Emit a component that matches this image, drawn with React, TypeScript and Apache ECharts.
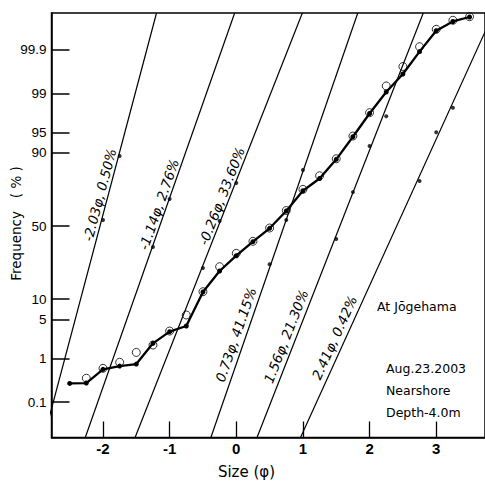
import React, { useEffect, useRef } from "react";
import * as echarts from "echarts";

// ---- data ----
const tickPercents = [0.1, 1, 5, 10, 50, 90, 95, 99, 99.9];
const tickLabels = ["0.1", "1", "5", "10", "50", "90", "95", "99", "99.9"];
const sizeTicks = [-2, -1, 0, 1, 2, 3];

// cumulative curve (black dots, connected)
const samplePhi = [-2.5, -2.25, -2, -1.75, -1.5, -1.25, -1, -0.75, -0.5, -0.25, 0, 0.25, 0.5, 0.75, 1, 1.25, 1.5, 1.75, 2, 2.25, 2.5, 2.75, 3, 3.25, 3.5];
const sampleFreq = [0.288, 0.294, 0.597, 0.701, 0.773, 1.98, 3.19, 3.97, 12.34, 21.5, 30.12, 39.17, 48.4, 60.37, 73.2, 79.76, 87.9, 94.14, 97.58, 99.064, 99.6175, 99.889, 99.9694, 99.98335, 99.98773];

// open circles
const circlePhi = [-2.25, -2, -1.75, -1.5, -1.25, -1, -0.75, -0.5, -0.25, 0, 0.25, 0.5, 0.75, 1, 1.25, 1.5, 1.75, 2, 2.25, 2.5, 2.75, 3, 3.25, 3.5];
const circleFreq = [0.379, 0.628, 0.84, 1.33, 1.84, 3.27, 5.93, 12.45, 23.76, 31.6, 39.43, 48.6, 60.7, 74.0, 81.1, 88.1, 94.28, 97.66, 99.3, 99.743, 99.917, 99.9721, 99.98465, 99.98796];

// component populations (straight lines on probability paper)
const compMean = [-2.045, -1.149, -0.268, 0.717, 1.554, 2.407];
const compSigma = [0.227, 0.301, 0.337, 0.296, 0.335, 0.389];
const compLabels = ["-2.03φ, 0.50%", "-1.14φ, 2.76%", "-0.26φ, 33.60%", "0.73φ, 41.15%", "1.56φ, 21.30%", "2.41φ, 0.42%"];
const compDotPhi = [[-2.0, -1.75], [-1.25, -1.0], [-0.5, -0.25, 0], [0.5, 0.75, 1.0], [1.5, 1.75, 2.0, 2.25], [2.75, 3.0, 3.25]];
const compDotFreq = [[54.2, 89.0], [35.6, 68.2], [23.1, 53.5, 77.5], [25.1, 54.2, 83.7], [41.0, 72.4, 92.0, 97.3], [78.5, 95.0, 98.1]];

// ---- layout (not data) ----
const labelAnchorZ = [0.509, 0.333, 0.474, -1.965, -2.0, -2.035];
const labelOffset = [8.4, 8.0, 8.0, 10.1, 10.0, 10.5];

const X_MIN = -2.7725;
const X_MAX = 3.732;
const Z_MIN = -3.71;
const Z_MAX = 3.737;

// inverse standard normal CDF (probability-paper scale)
function probit(p: number): number {
  const a = [-3.969683028665376e1, 2.209460984245205e2, -2.759285104469687e2, 1.38357751867269e2, -3.066479806614716e1, 2.506628277459239];
  const b = [-5.447609879822406e1, 1.615858368580409e2, -1.556989798598866e2, 6.680131188771972e1, -1.328068155288572e1];
  const c = [-7.784894002430293e-3, -3.223964580411365e-1, -2.400758277161838, -2.549732539343734, 4.374664141464968, 2.938163982698783];
  const d = [7.784695709041462e-3, 3.224671290700398e-1, 2.445134137142996, 3.754408661907416];
  const plow = 0.02425;
  const phigh = 1 - plow;
  if (p < plow) {
    const q = Math.sqrt(-2 * Math.log(p));
    return (((((c[0] * q + c[1]) * q + c[2]) * q + c[3]) * q + c[4]) * q + c[5]) / ((((d[0] * q + d[1]) * q + d[2]) * q + d[3]) * q + 1);
  }
  if (p <= phigh) {
    const q = p - 0.5;
    const r = q * q;
    return ((((((a[0] * r + a[1]) * r + a[2]) * r + a[3]) * r + a[4]) * r + a[5]) * q) / (((((b[0] * r + b[1]) * r + b[2]) * r + b[3]) * r + b[4]) * r + 1);
  }
  const q = Math.sqrt(-2 * Math.log(1 - p));
  return -(((((c[0] * q + c[1]) * q + c[2]) * q + c[3]) * q + c[4]) * q + c[5]) / ((((d[0] * q + d[1]) * q + d[2]) * q + d[3]) * q + 1);
}

const zTicks = tickPercents.map((p) => probit(p / 100));

export default function App() {
  const ref = useRef<HTMLDivElement>(null);

  useEffect(() => {
    if (!ref.current) return;
    const chart = echarts.init(ref.current, null, { renderer: "svg" });

    const compLineSeries = compMean.map((m, i) => ({
      type: "line",
      silent: true,
      symbol: "none",
      z: 2,
      lineStyle: { color: "#000", width: 1.2 },
      data: [
        [m + compSigma[i] * Z_MIN, Z_MIN],
        [m + compSigma[i] * Z_MAX, Z_MAX],
      ],
    }));

    const compDots: number[][] = [];
    compDotPhi.forEach((arr, i) => {
      arr.forEach((p, j) => compDots.push([p, probit(compDotFreq[i][j] / 100)]));
    });

    const font = "'DejaVu Sans', sans-serif";

    const option: any = {
      animation: false,
      backgroundColor: "#fff",
      grid: {
        left: 51.5,
        top: 13,
        right: -1,
        bottom: 43.5,
        show: true,
        borderColor: "#000",
        borderWidth: 1.5,
        backgroundColor: "transparent",
      },
      xAxis: {
        type: "value",
        min: X_MIN,
        max: X_MAX,
        axisLine: { show: true, onZero: false, lineStyle: { color: "#000", width: 1.5 } },
        axisTick: { show: true, inside: true, length: 16, customValues: sizeTicks, lineStyle: { color: "#000", width: 1.3 } },
        axisLabel: {
          customValues: sizeTicks,
          margin: 3,
          color: "#000",
          fontSize: 15,
          fontWeight: "bold",
          fontFamily: "'Liberation Sans Narrow', 'Liberation Sans', sans-serif",
        },
        splitLine: { show: false },
      },
      yAxis: {
        type: "value",
        min: Z_MIN,
        max: Z_MAX,
        axisLine: { show: true, onZero: false, lineStyle: { color: "#000", width: 1.5 } },
        axisTick: { show: true, inside: true, length: 18, customValues: zTicks, lineStyle: { color: "#000", width: 1.5 } },
        axisLabel: {
          customValues: zTicks,
          margin: 5,
          color: "#000",
          fontSize: 13.5,
          fontFamily: "'Liberation Sans', sans-serif",
          formatter: (v: number) => {
            for (let i = 0; i < zTicks.length; i++) {
              if (Math.abs(zTicks[i] - v) < 1e-6) return tickLabels[i];
            }
            return "";
          },
        },
        splitLine: { show: false },
      },
      graphic: [
        { type: "text", x: 377, y: 306, style: { text: "At Jōgehama", fontSize: 12.5, fontFamily: font, fill: "#000", verticalAlign: "middle" } },
        { type: "text", x: 386, y: 368, style: { text: "Aug.23.2003", fontSize: 12.5, fontFamily: font, fill: "#000", verticalAlign: "middle" } },
        { type: "text", x: 386, y: 390, style: { text: "Nearshore", fontSize: 12.5, fontFamily: font, fill: "#000", verticalAlign: "middle" } },
        { type: "text", x: 386, y: 412, style: { text: "Depth-4.0m", fontSize: 12.5, fontFamily: font, fill: "#000", verticalAlign: "middle" } },
        { type: "text", x: 16, y: 223.5, rotation: Math.PI / 2, style: { text: "Frequency   ( % )", fontSize: 13.5, fontFamily: font, fill: "#000", align: "center", verticalAlign: "middle" } },
        { type: "text", x: 246.5, y: 472, style: { text: "Size (φ)", fontSize: 15, fontFamily: font, fill: "#000", align: "center", verticalAlign: "middle" } },
      ],
      series: [
        ...compLineSeries,
        {
          type: "scatter",
          silent: true,
          symbol: "circle",
          symbolSize: 4,
          z: 3,
          itemStyle: { color: "#000" },
          data: compDots,
        },
        {
          type: "line",
          silent: true,
          symbol: "circle",
          symbolSize: 5,
          showAllSymbol: true,
          z: 4,
          itemStyle: { color: "#000" },
          lineStyle: { color: "#000", width: 2.3 },
          data: samplePhi.map((p, i) => [p, probit(sampleFreq[i] / 100)]),
        },
        {
          type: "scatter",
          silent: true,
          symbol: "circle",
          symbolSize: 8,
          z: 5,
          itemStyle: { color: "rgba(0,0,0,0)", borderColor: "#000", borderWidth: 1 },
          data: circlePhi.map((p, i) => [p, probit(circleFreq[i] / 100)]),
        },
        {
          type: "custom",
          coordinateSystem: "cartesian2d",
          silent: true,
          z: 6,
          encode: { x: 0, y: 1 },
          data: compMean.map((m, i) => [m, 0, i]),
          renderItem: (params: any, api: any) => {
            const i = api.value(2);
            const m = compMean[i];
            const s = compSigma[i];
            const zA = labelAnchorZ[i];
            const p0 = api.coord([m + s * (zA - 1), zA - 1]);
            const p1 = api.coord([m + s * (zA + 1), zA + 1]);
            const dx = p1[0] - p0[0];
            const dy = p1[1] - p0[1];
            const len = Math.hypot(dx, dy);
            const ux = dx / len;
            const uy = dy / len;
            const c = api.coord([m + s * zA, zA]);
            const off = labelOffset[i];
            return {
              type: "text",
              x: c[0] + uy * off,
              y: c[1] - ux * off,
              rotation: Math.atan2(-dy, dx),
              style: {
                text: compLabels[i],
                fill: "#000",
                fontSize: 13.5,
                fontStyle: "italic",
                fontFamily: font,
                align: "center",
                verticalAlign: "middle",
              },
            };
          },
        },
      ],
    };

    chart.setOption(option);
    return () => chart.dispose();
  }, []);

  return (
    <div
      ref={ref}
      style={{ position: "fixed", left: 0, top: 0, width: 485, height: 481, background: "#fff" }}
    />
  );
}
